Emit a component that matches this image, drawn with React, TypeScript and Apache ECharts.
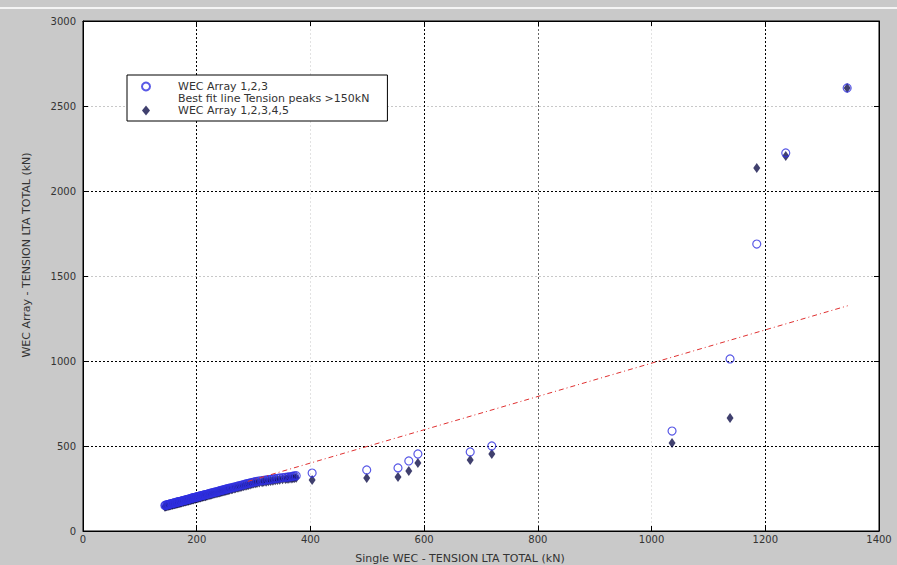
import React, { useEffect, useRef } from 'react';
import * as echarts from 'echarts';

// Single WEC tension (x) shared by both array series
const pointX = [
  144, 145, 147, 148, 150, 151, 152, 154, 155, 157, 158, 160, 161, 163, 164, 166, 167, 168, 170, 171,
  173, 174, 176, 177, 179, 180, 182, 183, 185, 186, 188, 189, 191, 192, 194, 195, 197, 198, 200, 201,
  203, 204, 206, 207, 209, 210, 212, 213, 215, 216, 218, 220, 222, 224, 226, 228, 230, 232, 234, 236,
  238, 240, 242, 244, 246, 248, 250, 252, 254, 256, 258, 261, 263, 266, 268, 271, 273, 276, 279, 282,
  285, 288, 291, 294, 297, 300, 303, 306, 310, 315, 318, 322, 326, 330, 334, 338, 342, 346, 351, 356,
  359, 362, 366, 369, 372, 375,
  403, 499, 554, 573, 589, 681, 719, 1036, 1138, 1185, 1236, 1344,
];
// WEC Array 1,2,3
const circleY = [
  150, 152, 152, 155, 155, 157, 158, 160, 160, 162, 163, 165, 166, 166, 169, 170, 171, 172, 173, 174,
  176, 177, 179, 180, 181, 182, 184, 185, 187, 188, 189, 190, 193, 194, 195, 196, 198, 199, 200, 201,
  203, 204, 206, 207, 208, 209, 211, 212, 213, 214, 216, 218, 220, 222, 223, 225, 227, 229, 230, 232,
  234, 236, 238, 240, 241, 243, 245, 247, 248, 250, 252, 254, 256, 258, 260, 263, 265, 267, 270, 272,
  275, 278, 280, 283, 285, 288, 290, 292, 294, 296, 298, 300, 302, 304, 306, 308, 310, 312, 314, 316,
  317, 318, 320, 322, 324, 325,
  341, 359, 371, 412, 453, 465, 500, 588, 1012, 1688, 2224, 2606,
];
// WEC Array 1,2,3,4,5
const starY = [
  143, 144, 145, 147, 148, 150, 150, 152, 153, 155, 155, 157, 158, 159, 161, 162, 163, 164, 165, 166,
  168, 169, 171, 172, 173, 174, 176, 177, 178, 180, 181, 182, 184, 185, 186, 188, 189, 190, 192, 193,
  195, 196, 197, 199, 200, 201, 203, 204, 205, 206, 208, 210, 212, 213, 215, 217, 219, 220, 222, 224,
  226, 227, 229, 231, 233, 234, 236, 238, 240, 241, 243, 245, 247, 250, 252, 254, 256, 258, 261, 263,
  266, 268, 271, 274, 276, 279, 281, 283, 285, 287, 289, 290, 292, 294, 296, 298, 300, 302, 304, 306,
  307, 308, 309, 311, 312, 313,
  300, 312, 318, 353, 400, 418, 453, 518, 665, 2135, 2206, 2606,
];
// Best fit line end points
const fitX = [290, 1345];
const fitY = [292, 1325];

const seriesNames = ['WEC Array 1,2,3', 'Best fit line Tension peaks >150kN', 'WEC Array 1,2,3,4,5'];
const xLabel = 'Single WEC - TENSION LTA TOTAL (kN)';
const yLabel = 'WEC Array - TENSION LTA TOTAL (kN)';

const FONT = '"DejaVu Sans", Verdana, sans-serif';

export default function App() {
  const ref = useRef<HTMLDivElement>(null);
  useEffect(() => {
    if (!ref.current) return;
    const chart = echarts.init(ref.current, undefined, { renderer: 'svg' });
    const circles = pointX.map((x, i) => [x, circleY[i]]);
    const stars = pointX.map((x, i) => [x, starY[i]]);
    const fit = fitX.map((x, i) => [x, fitY[i]]);
    const xGrid = ['#000', '#000', '#e2e2e2', '#000', '#666', '#e2e2e2', '#000', '#000'];
    const yGrid = ['#000', '#000', '#000', '#c8c8c8', '#000', '#c8c8c8', '#000'];
    const tick = { inside: true, length: 5, lineStyle: { color: '#000' } };
    const line = { show: true, onZero: false, lineStyle: { color: '#000', width: 1 } };
    const fmt = (v: number) => String(v);
    chart.setOption({
      animation: false,
      backgroundColor: '#c9c9c9',
      textStyle: { fontFamily: FONT },
      grid: { left: 83, top: 21, width: 796, height: 510, show: true, backgroundColor: '#fff', borderColor: '#000', borderWidth: 1 },
      xAxis: [
        {
          type: 'value', min: 0, max: 1400, interval: 200, position: 'bottom',
          axisLine: line, axisTick: tick,
          axisLabel: { margin: 3, fontSize: 10, color: '#333', fontFamily: FONT, formatter: fmt },
          splitLine: { show: true, lineStyle: { color: xGrid, type: [2, 2], width: 1 } },
        },
        {
          type: 'value', min: 0, max: 1400, interval: 200, position: 'top',
          axisLine: line, axisTick: tick, axisLabel: { show: false }, splitLine: { show: false },
        },
      ],
      yAxis: [
        {
          type: 'value', min: 0, max: 3000, interval: 500, position: 'left',
          axisLine: line, axisTick: tick,
          axisLabel: { margin: 7, fontSize: 10, color: '#333', fontFamily: FONT, formatter: fmt },
          splitLine: { show: true, lineStyle: { color: yGrid, type: [2, 2], width: 1 } },
        },
        {
          type: 'value', min: 0, max: 3000, interval: 500, position: 'right',
          axisLine: line, axisTick: tick, axisLabel: { show: false }, splitLine: { show: false },
        },
      ],
      legend: {
        left: 127, top: 75, orient: 'vertical',
        backgroundColor: '#fff', borderColor: '#000', borderWidth: 1,
        padding: [6, 18, 5, 14], itemGap: 1, itemWidth: 8, itemHeight: 10,
        textStyle: { fontSize: 11, color: '#333', fontFamily: FONT, padding: [0, 0, 0, 23] },
        data: [
          { name: seriesNames[0] },
          { name: seriesNames[1], itemStyle: { opacity: 0 }, lineStyle: { opacity: 0 } },
          { name: seriesNames[2] },
        ],
      },
      graphic: [
        { type: 'rect', left: 0, top: 7, shape: { width: 897, height: 2 }, style: { fill: '#f4f4f4' }, silent: true },
        {
          type: 'text', x: 26, y: 255, rotation: Math.PI / 2,
          style: { text: yLabel, fontSize: 11, fill: '#333', fontFamily: FONT, align: 'center', verticalAlign: 'middle' },
        },
        {
          type: 'text', x: 460, y: 558,
          style: { text: xLabel, fontSize: 11, fill: '#333', fontFamily: FONT, align: 'center', verticalAlign: 'middle' },
        },
      ],
      series: [
        {
          name: seriesNames[2], type: 'scatter', data: stars, symbol: 'diamond', symbolSize: [7, 10],
          itemStyle: { color: '#10104a' }, z: 2,
        },
        {
          name: seriesNames[0], type: 'scatter', data: circles, symbol: 'circle', symbolSize: 8,
          itemStyle: { color: 'rgba(255,255,255,0)', borderColor: '#2f2fe0', borderWidth: 1.2 }, z: 3,
        },
        {
          name: seriesNames[1], type: 'line', data: fit, showSymbol: false, symbol: 'none',
          lineStyle: { color: '#e03030', width: 1, type: [5, 3, 1, 3] }, z: 4,
        },
      ],
    });
    return () => chart.dispose();
  }, []);
  return <div ref={ref} style={{ position: 'absolute', left: 0, top: 0, width: 897, height: 565 }} />;
}
